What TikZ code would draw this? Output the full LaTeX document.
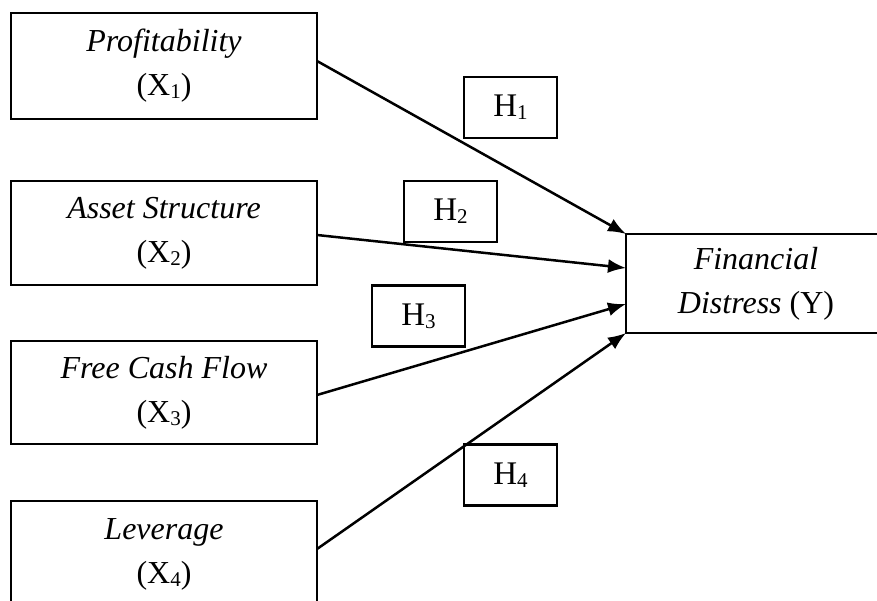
\documentclass[tikz,border=0pt]{standalone}
\usepackage{fontspec}
\setmainfont{Liberation Serif}
\usetikzlibrary{arrows.meta}
\newcommand\mysub[1]{\raisebox{-3pt}{\fontsize{21}{21}\selectfont #1}}
\tikzset{
  varbox/.style={draw, line width=2.3pt, inner sep=0pt, outer sep=0pt, align=center,
    minimum width=306pt, font=\fontsize{32}{44}\selectfont},
  hbox/.style={draw, line width=2.3pt, inner sep=0pt, outer sep=0pt, align=center,
    minimum width=93pt, minimum height=61pt, font=\fontsize{33}{44}\selectfont},
  link/.style={line width=2.5pt, -{Latex[length=18pt,width=14pt]}}
}
\begin{document}
\begin{tikzpicture}[x=1pt,y=-1pt]
\useasboundingbox (0,0) rectangle (877,601);
\clip (0,0) rectangle (877,601);
\node[varbox, minimum height=106pt] (b1) at (164,66) {\textit{Profitability}\\(X\mysub{1})};
\node[varbox, minimum height=104pt] (b2) at (164,233) {\textit{Asset Structure}\\(X\mysub{2})};
\node[varbox, minimum height=103pt] (b3) at (164,392.5) {\textit{Free Cash Flow}\\(X\mysub{3})};
\node[varbox, minimum height=106pt] (b4) at (164,554) {\textit{Leverage}\\(X\mysub{4})};
\node[varbox, minimum width=260pt, minimum height=99pt] (y) at (756,283.5) {\textit{Financial}\\\textit{Distress} (Y)};
\node[hbox] (h1) at (510.5,107.5) {H\mysub{1}};
\node[hbox] (h2) at (450.5,211.5) {H\mysub{2}};
\node[hbox] (h3) at (418.5,316) {H\mysub{3}};
\node[hbox] (h4) at (510.5,475) {H\mysub{4}};
\draw[link] ([yshift=5pt]b1.east) -- (y.north west);
\draw[link] ([yshift=-2pt]b2.east) -- ([yshift=15.5pt]y.west);
\draw[link] ([yshift=-2.5pt]b3.east) -- ([yshift=-20.5pt]y.west);
\draw[link] ([yshift=5pt]b4.east) -- (y.south west);
\end{tikzpicture}
\end{document}
